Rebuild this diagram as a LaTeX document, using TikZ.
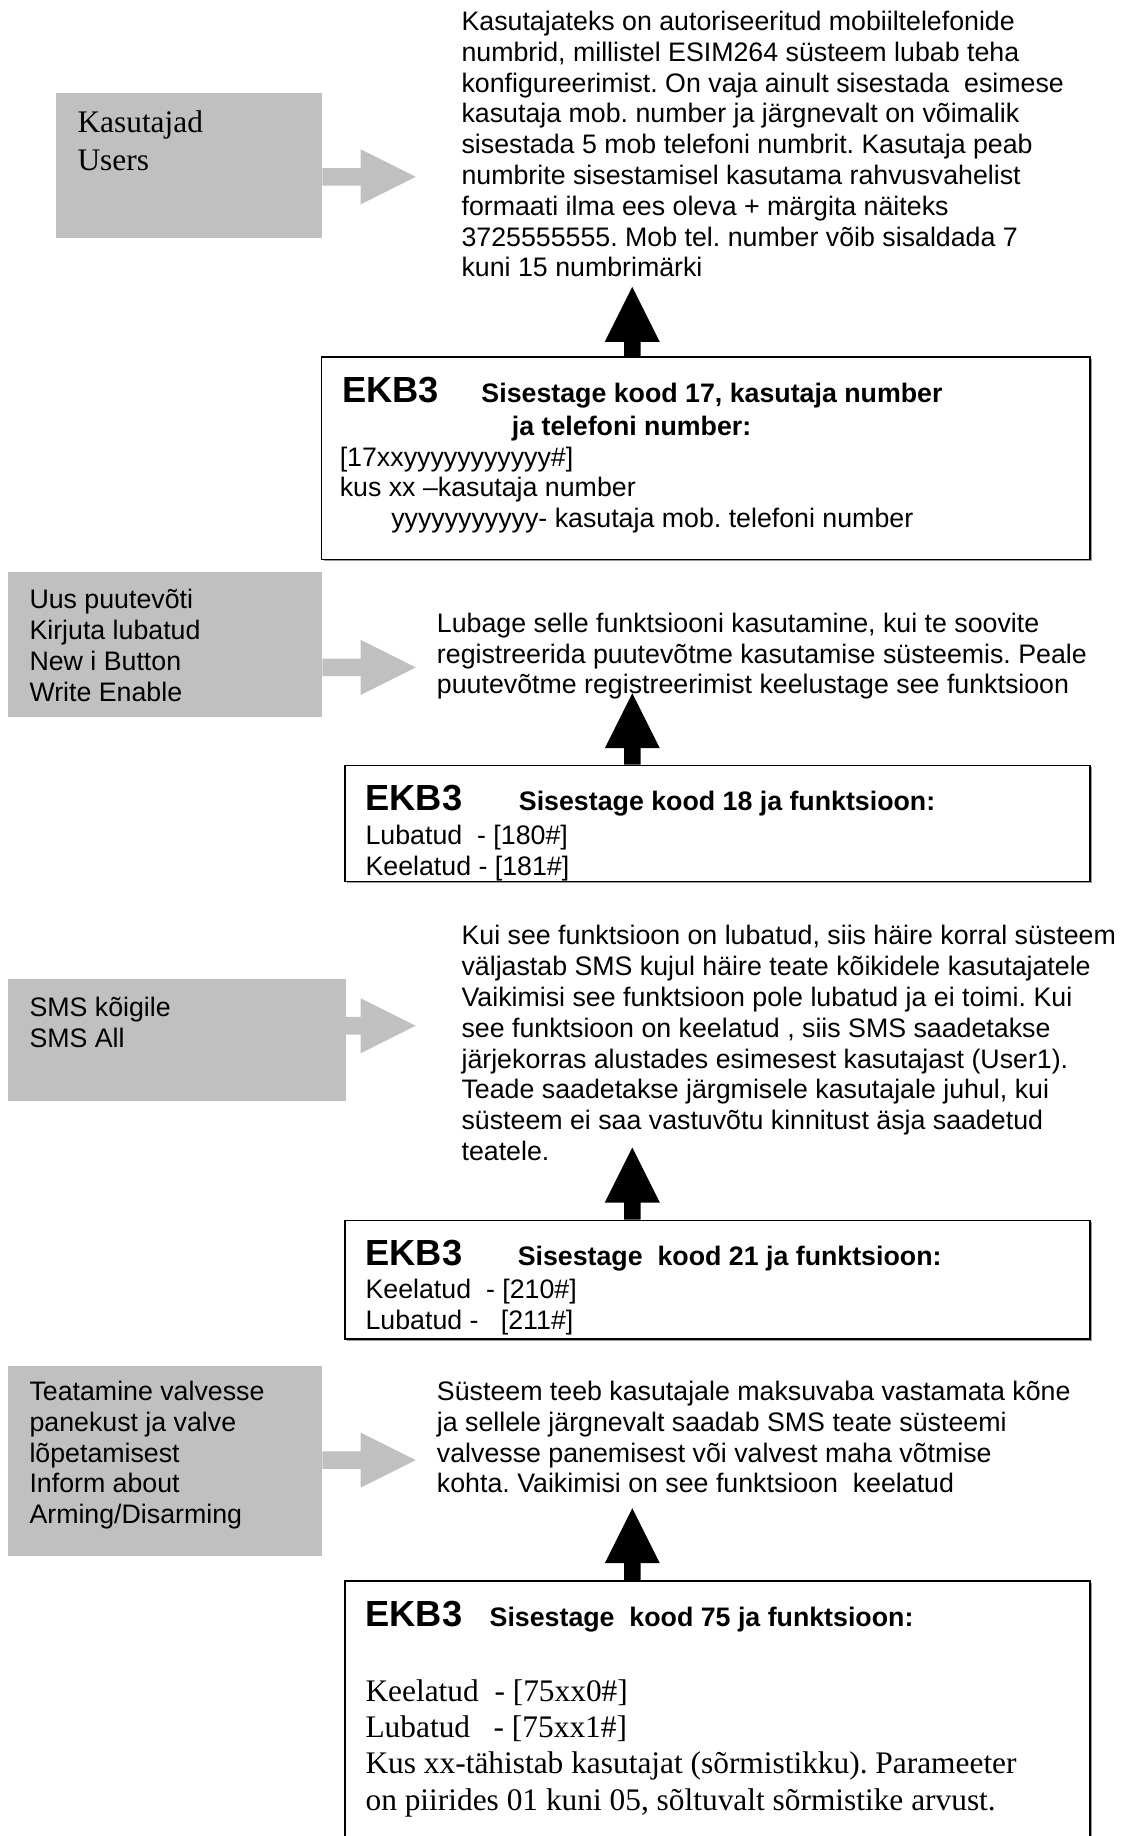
\documentclass[tikz,border=0pt]{standalone}
\usepackage{fontspec}
\setmainfont{Liberation Serif}
\newfontfamily\arialf{Liberation Sans}
\usetikzlibrary{calc,shadows}
\frenchspacing

% font sizes used throughout
\newcommand\bodyf{\arialf\fontsize{22.85}{26.3}\selectfont}
\newcommand\titlef{\arialf\bfseries\fontsize{31}{36}\selectfont}
\newcommand\headf{\arialf\bfseries\fontsize{22.85}{28}\selectfont}
\newcommand\romanf{\fontsize{26.8}{31}\selectfont}
\newcommand\mlines[1]{\begin{tabular}[t]{@{}l@{}}#1\end{tabular}}

\definecolor{panelgray}{RGB}{192,192,192}

% wide grey arrow pointing right, from a start point to a tip
\newcommand\grayarrow[2]{%
  \fill[panelgray] ($(#1)+(0,-7.5)$) -- ($(#2)+(-47,-7.5)$) -- ($(#2)+(-47,-23.5)$)
    -- (#2) -- ($(#2)+(-47,23.5)$) -- ($(#2)+(-47,7.5)$) -- ($(#1)+(0,7.5)$) -- cycle;}
% black arrow pointing up, from a start point to a tip
\newcommand\blackarrow[2]{%
  \fill[black] ($(#1)+(-7,0)$) -- ($(#2)+(-7,47)$) -- ($(#2)+(-23.5,47)$)
    -- (#2) -- ($(#2)+(23.5,47)$) -- ($(#2)+(7,47)$) -- ($(#1)+(7,0)$) -- cycle;}

\begin{document}
\begin{tikzpicture}[x=1pt,y=-1pt,
  txt/.style={inner sep=0pt, anchor=base west},
  graybox/.style={fill=panelgray, draw=none, inner sep=0pt, anchor=north west},
  ekbbox/.style={draw=black, line width=1.4pt, fill=white, inner sep=0pt, anchor=north west,
    drop shadow={shadow xshift=1.6pt, shadow yshift=-1.6pt, fill=black!40, opacity=1}}]
\useasboundingbox (0,0) rectangle (957,1568);
\clip (0,0) rectangle (957,1568);

% ---------------- users ----------------
\node[graybox, minimum width=227, minimum height=124] (g1) at (48,79) {};
\node[txt] (g1t) at (66,113) {\fontsize{26.8}{33}\selectfont\mlines{Kasutajad\\Users}};
\node[txt] (t1) at (394,26) {\bodyf\mlines{%
Kasutajateks on autoriseeritud mobiiltelefonide\\
numbrid, millistel ESIM264 süsteem lubab teha\\
konfigureerimist. On vaja ainult sisestada\ \ esimese\\
kasutaja mob. number ja järgnevalt on võimalik\\
sisestada 5 mob telefoni numbrit. Kasutaja peab\\
numbrite sisestamisel kasutama rahvusvahelist\\
formaati ilma ees oleva + märgita näiteks\\
3725555555. Mob tel. number võib sisaldada 7\\
kuni 15 numbrimärki}};
\coordinate (a1s) at (g1.east |- 0,151);
\coordinate (a1t) at (355,151);
\grayarrow{a1s}{a1t}

\node[ekbbox, minimum width=656, minimum height=173] (box1) at (274,304) {};
\node[txt] (e1t) at (292,344) {\titlef EKB3};
\node[txt] (e1h) at (411,344) {\headf\mlines{Sisestage kood 17, kasutaja number\\
\hspace*{26pt}ja telefoni number:}};
\node[txt] (e1b) at (290,398) {\bodyf\mlines{{[}17xxyyyyyyyyyyy\#]\\
kus xx –kasutaja number\\
\hspace*{44pt}yyyyyyyyyyy- kasutaja mob. telefoni number}};
\coordinate (k1s) at (540,304);
\coordinate (k1t) at (540,245);
\blackarrow{k1s}{k1t}

% ---------------- i-button ----------------
\node[graybox, minimum width=268, minimum height=124] (g2) at (7,488) {};
\node[txt] (g2t) at (25,520) {\bodyf\mlines{Uus puutevõti\\Kirjuta lubatud\\New i Button\\Write Enable}};
\node[txt] (t2) at (373,540) {\bodyf\mlines{%
Lubage selle funktsiooni kasutamine, kui te soovite\\
registreerida puutevõtme kasutamise süsteemis. Peale\\
puutevõtme registreerimist keelustage see funktsioon}};
\coordinate (a2s) at (g2.east |- 0,570);
\coordinate (a2t) at (355,570);
\grayarrow{a2s}{a2t}

\node[ekbbox, minimum width=636, minimum height=99] (box2) at (294,653) {};
\node[txt] (e2t) at (312,692) {\titlef EKB3};
\node[txt] (e2h) at (443,692) {\headf Sisestage kood 18 ja funktsioon:};
\begin{scope}
\clip (box2.north west) rectangle ([yshift=1.5pt]box2.south east);
\node[txt] (e2b) at (312,721) {\bodyf\mlines{Lubatud\ \ - {[}180\#]\\Keelatud - {[}181\#]}};
\end{scope}
\coordinate (k2s) at (540,653);
\coordinate (k2t) at (540,592);
\blackarrow{k2s}{k2t}

% ---------------- SMS to all ----------------
\node[graybox, minimum width=288, minimum height=104] (g3) at (7,836) {};
\node[txt] (g3t) at (25,868) {\bodyf\mlines{SMS kõigile\\SMS All}};
\node[txt] (t3) at (394,807) {\bodyf\mlines{%
Kui see funktsioon on lubatud, siis häire korral süsteem\\
väljastab SMS kujul häire teate kõikidele kasutajatele\\
Vaikimisi see funktsioon pole lubatud ja ei toimi. Kui\\
see funktsioon on keelatud , siis SMS saadetakse\\
järjekorras alustades esimesest kasutajast (User1).\\
Teade saadetakse järgmisele kasutajale juhul, kui\\
süsteem ei saa vastuvõtu kinnitust äsja saadetud\\
teatele.}};
\coordinate (a3s) at (g3.east |- 0,876);
\coordinate (a3t) at (355,876);
\grayarrow{a3s}{a3t}

\node[ekbbox, minimum width=636, minimum height=101.5] (box3) at (294,1041.5) {};
\node[txt] (e3t) at (312,1081) {\titlef EKB3};
\node[txt] (e3h) at (442,1081) {\headf Sisestage\ \ kood 21 ja funktsioon:};
\begin{scope}
\clip (box3.north west) rectangle ([yshift=1.5pt]box3.south east);
\node[txt] (e3b) at (312,1109) {\bodyf\mlines{Keelatud\ \ - {[}210\#]\\Lubatud -\ \ \ {[}211\#]}};
\end{scope}
\coordinate (k3s) at (540,1041.5);
\coordinate (k3t) at (540,980);
\blackarrow{k3s}{k3t}

% ---------------- arming / disarming ----------------
\node[graybox, minimum width=268, minimum height=163] (g4) at (7,1166) {};
\node[txt] (g4t) at (25,1196) {\bodyf\mlines{Teatamine valvesse\\panekust ja valve\\lõpetamisest\\Inform about\\Arming/Disarming}};
\node[txt] (t4) at (373,1196) {\bodyf\mlines{%
Süsteem teeb kasutajale maksuvaba vastamata kõne\\
ja sellele järgnevalt saadab SMS teate süsteemi\\
valvesse panemisest või valvest maha võtmise\\
kohta. Vaikimisi on see funktsioon\ \ keelatud}};
\coordinate (a4s) at (g4.east |- 0,1247);
\coordinate (a4t) at (355,1247);
\grayarrow{a4s}{a4t}

\node[ekbbox, minimum width=636, minimum height=260] (box4) at (294,1349.5) {};
\node[txt] (e4t) at (312,1389) {\titlef EKB3};
\node[txt] (e4h) at (418,1389) {\headf Sisestage\ \ kood 75 ja funktsioon:};
\node[txt] (e4b) at (312,1453) {\romanf\mlines{Keelatud\ \ - {[}75xx0\#]\\
Lubatud\ \ \ - {[}75xx1\#]\\
Kus xx-tähistab kasutajat (sõrmistikku). Parameeter\\
on piirides 01 kuni 05, sõltuvalt sõrmistike arvust.}};
\coordinate (k4s) at (540,1349.5);
\coordinate (k4t) at (540,1288);
\blackarrow{k4s}{k4t}
\end{tikzpicture}
\end{document}
